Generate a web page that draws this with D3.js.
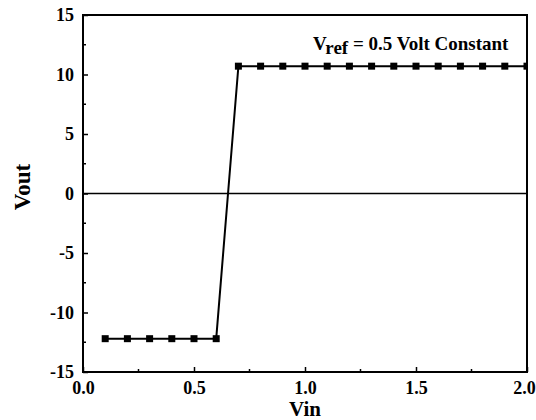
<!DOCTYPE html>
<html><head><meta charset="utf-8">
<script src="https://cdn.jsdelivr.net/npm/d3@7"></script>
<style>body{margin:0;background:#fff}svg{display:block}text{font-family:"Liberation Serif","Times New Roman",serif;font-weight:bold;fill:#000}</style>
</head><body>
<svg id="c" width="536" height="420"></svg>
<script>
const vinLow = [0.1,0.2,0.3,0.4,0.5,0.6];
const voutLow = [-12.2,-12.2,-12.2,-12.2,-12.2,-12.2];
const vinHigh = [0.7,0.8,0.9,1.0,1.1,1.2,1.3,1.4,1.5,1.6,1.7,1.8,1.9,2.0];
const voutHigh = [10.7,10.7,10.7,10.7,10.7,10.7,10.7,10.7,10.7,10.7,10.7,10.7,10.7,10.7];
const xTicks = [0.0,0.5,1.0,1.5,2.0];
const xTickLabels = ["0.0","0.5","1.0","1.5","2.0"];
const yTicks = [-15,-10,-5,0,5,10,15];
const yTickLabels = ["-15","-10","-5","0","5","10","15"];
const xMinor = [0.25,0.75,1.25,1.75];
const yMinor = [-12.5,-7.5,-2.5,2.5,7.5,12.5];

const svg = d3.select("#c");
const L=83,R=527,T=15,B=372;
const x = d3.scaleLinear().domain([0,2]).range([L,R]);
const y = d3.scaleLinear().domain([-15,15]).range([B,T]);

const pts = vinLow.map((v,i)=>[v,voutLow[i]]).concat(vinHigh.map((v,i)=>[v,voutHigh[i]]));

// zero line
svg.append("line").attr("x1",L).attr("x2",R).attr("y1",y(0)).attr("y2",y(0)).attr("stroke","#000").attr("stroke-width",1.5);

// data line
svg.append("clipPath").attr("id","cp").append("rect").attr("x",L).attr("y",T).attr("width",R-L).attr("height",B-T);
const g = svg.append("g").attr("clip-path","url(#cp)");
g.append("path").datum(pts).attr("d",d3.line().x(d=>x(d[0])).y(d=>y(d[1]))).attr("fill","none").attr("stroke","#000").attr("stroke-width",2);
g.selectAll("rect.m").data(pts).join("rect").attr("class","m")
  .attr("x",d=>x(d[0])-3.5).attr("y",d=>y(d[1])-3.5).attr("width",7).attr("height",7).attr("fill","#000");

// axes
const xAxis = d3.axisBottom(x).tickValues(xTicks).tickFormat((d,i)=>xTickLabels[i]).tickSize(-5).tickPadding(8);
const gx = svg.append("g").attr("transform",`translate(0,${B})`).call(xAxis);
const yAxis = d3.axisLeft(y).tickValues(yTicks).tickFormat((d,i)=>yTickLabels[i]).tickSize(-5).tickPadding(9);
const gy = svg.append("g").attr("transform",`translate(${L},0)`).call(yAxis);
[gx,gy].forEach(g=>{
  g.select(".domain").remove();
  g.selectAll("line").attr("stroke","#000").attr("stroke-width",1.5);
  g.selectAll("text").style("font-size","18px").style("font-family","'Liberation Serif', serif").style("font-weight","bold").attr("fill","#000");
});
gx.selectAll(".tick text").attr("y",22).attr("dy","0");
gx.selectAll(".tick").filter(d=>d===2).select("text").attr("dx",-3);
svg.append("g").selectAll("line").data(xMinor).join("line")
  .attr("x1",d=>x(d)).attr("x2",d=>x(d)).attr("y1",B).attr("y2",B-3).attr("stroke","#000").attr("stroke-width",1.5);
svg.append("g").selectAll("line").data(yMinor).join("line")
  .attr("x1",L).attr("x2",L+3).attr("y1",d=>y(d)).attr("y2",d=>y(d)).attr("stroke","#000").attr("stroke-width",1.5);

// frame
svg.append("rect").attr("x",L).attr("y",T).attr("width",R-L).attr("height",B-T).attr("fill","none").attr("stroke","#000").attr("stroke-width",2);

// titles
svg.append("text").attr("x",(L+R)/2).attr("y",416).attr("text-anchor","middle").style("font-size","21px").text("Vin");
svg.append("text").attr("transform",`translate(30,187) rotate(-90)`).attr("text-anchor","middle").style("font-size","23px").text("Vout");

// annotation
const ann = svg.append("text").attr("x",313).attr("y",50).style("font-size","19px");
ann.append("tspan").text("V");
ann.append("tspan").attr("dy",4).text("ref");
ann.append("tspan").attr("dy",-4).text(" = 0.5 Volt Constant");
</script>
</body></html>
